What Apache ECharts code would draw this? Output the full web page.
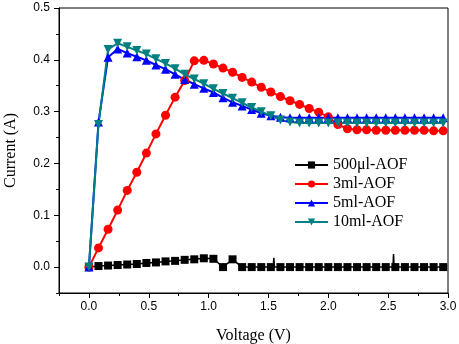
<!DOCTYPE html>
<html>
<head>
<meta charset="utf-8">
<script src="https://cdn.jsdelivr.net/npm/echarts@6/dist/echarts.min.js"></script>
<style>
    html, body {margin: 0; padding: 0; background: #fff;}
    #iv-chart {width: 459px; height: 344px;}
</style>
</head>
<body>
<div id="iv-chart"></div>
<script>
// voltage steps of the sweep (V)
const voltage = [0.00, 0.08, 0.16, 0.24, 0.32, 0.40, 0.48, 0.56, 0.64, 0.72, 0.80, 0.88, 0.96,
    1.04, 1.12, 1.20, 1.28, 1.36, 1.44, 1.52, 1.60, 1.68, 1.76, 1.84, 1.92, 2.00, 2.08, 2.16,
    2.24, 2.32, 2.40, 2.48, 2.56, 2.64, 2.72, 2.80, 2.88, 2.96];

// current (A) per sample
const aof500ul = [0, 0.002, 0.003, 0.004, 0.005, 0.006, 0.008, 0.009, 0.011, 0.012, 0.014, 0.015, 0.017,
    0.016, 0.000, 0.015, 0.000, 0, 0, 0, 0, 0, 0, 0, 0, 0, 0, 0,
    0, 0, 0, 0, 0, 0, 0, 0, 0, 0];
const aof3ml = [0, 0.037, 0.073, 0.110, 0.148, 0.183, 0.220, 0.257, 0.293, 0.328, 0.360, 0.398, 0.399,
    0.392, 0.384, 0.376, 0.366, 0.357, 0.347, 0.338, 0.329, 0.321, 0.314, 0.306, 0.299, 0.290, 0.275, 0.267,
    0.265, 0.265, 0.264, 0.264, 0.264, 0.264, 0.264, 0.264, 0.263, 0.263];
const aof5ml = [0, 0.280, 0.405, 0.421, 0.413, 0.406, 0.399, 0.390, 0.382, 0.372, 0.362, 0.353, 0.345,
    0.337, 0.327, 0.318, 0.311, 0.304, 0.297, 0.292, 0.289, 0.288, 0.288, 0.288, 0.288, 0.288, 0.288, 0.288,
    0.288, 0.288, 0.288, 0.288, 0.288, 0.288, 0.288, 0.288, 0.288, 0.288];
const aof10ml = [0, 0.275, 0.420, 0.432, 0.425, 0.418, 0.411, 0.402, 0.393, 0.383, 0.372, 0.363, 0.354,
    0.344, 0.335, 0.326, 0.317, 0.308, 0.300, 0.292, 0.284, 0.280, 0.278, 0.278, 0.278, 0.278, 0.278, 0.278,
    0.278, 0.278, 0.278, 0.278, 0.278, 0.278, 0.278, 0.278, 0.278, 0.278];

// little glitches in the 500µl trace, no marker drawn on them
const spikeV = [1.540, 1.545, 1.550, 2.540, 2.545, 2.550];
const spikeI = [0, 0.018, 0, 0, 0.025, 0];

const seriesNames = ['500μl-AOF', '3ml-AOF', '5ml-AOF', '10ml-AOF'];
const xLabels = [0, 0.5, 1.0, 1.5, 2.0, 2.5, 3.0];
const xMinor = [-0.25, 0.25, 0.75, 1.25, 1.75, 2.25, 2.75];
const yLabels = [0, 0.1, 0.2, 0.3, 0.4, 0.5];
const yMinor = [-0.05, 0.05, 0.15, 0.25, 0.35, 0.45];

function pairs(ys) {
    return voltage.map((v, i) => [v, ys[i]]);
}

function blackData() {
    let pts = pairs(aof500ul);
    spikeV.forEach((v, i) => {
        pts.push({value: [v, spikeI[i]], symbol: 'none'});
    });
    pts.sort((a, b) => (a.value || a)[0] - (b.value || b)[0]);
    return pts;
}

function lineSeries(name, data, color, symbol, size, width) {
    return {
        name: name,
        type: 'line',
        data: data,
        symbol: symbol,
        symbolSize: size,
        showAllSymbol: true,
        animation: false,
        lineStyle: {color: color, width: width},
        itemStyle: {color: color}
    };
}

function renderChart() {
    const el = echarts.init(document.getElementById('iv-chart'));
    const axisFont = {fontFamily: 'Liberation Sans', fontSize: 12, color: '#000'};
    const nameFont = {fontFamily: 'Liberation Serif', fontSize: 16, color: '#000'};
    const line = {show: true, onZero: false, lineStyle: {color: '#000', width: 1}};
    const noLine = {show: false, onZero: false};
    let option = {
        backgroundColor: '#fff',
        grid: {
            left: 59, top: 8, right: 11, bottom: 51,
            outerBoundsMode: 'none', containLabel: false,
            show: true, borderColor: '#000', borderWidth: 1
        },
        legend: {
            orient: 'vertical',
            left: 289,
            top: 152,
            itemWidth: 33,
            itemHeight: 9,
            itemGap: 3,
            data: seriesNames,
            textStyle: {fontFamily: 'Liberation Serif', fontSize: 16, color: '#000', lineHeight: 14}
        },
        xAxis: [{
            type: 'value', min: -0.25, max: 3.0,
            name: 'Voltage (V)', nameLocation: 'middle', nameGap: 35, nameTextStyle: nameFont,
            axisLine: line,
            splitLine: {show: false},
            axisTick: {customValues: xLabels, length: 5, lineStyle: {color: '#000'}},
            axisLabel: {customValues: xLabels, margin: 8, formatter: v => v.toFixed(1), ...axisFont}
        }, {
            type: 'value', min: -0.25, max: 3.0, position: 'bottom',
            axisLine: noLine, splitLine: {show: false}, axisLabel: {show: false},
            axisTick: {customValues: xMinor, length: 3, lineStyle: {color: '#000'}}
        }],
        yAxis: [{
            type: 'value', min: -0.05, max: 0.5,
            name: 'Current (A)', nameLocation: 'middle', nameGap: 40, nameTextStyle: nameFont,
            axisLine: line,
            splitLine: {show: false},
            axisTick: {customValues: yLabels, length: 5, lineStyle: {color: '#000'}},
            axisLabel: {customValues: yLabels, margin: 9, formatter: v => v.toFixed(1), ...axisFont}
        }, {
            type: 'value', min: -0.05, max: 0.5, position: 'left',
            axisLine: noLine, splitLine: {show: false}, axisLabel: {show: false},
            axisTick: {customValues: yMinor, length: 3, lineStyle: {color: '#000'}}
        }],
        series: [
            lineSeries(seriesNames[0], blackData(), '#000000', 'rect', 8, 1.5),
            lineSeries(seriesNames[1], pairs(aof3ml), '#ff0000', 'circle', 9, 2),
            lineSeries(seriesNames[2], pairs(aof5ml), '#0000ff', 'triangle', 9, 2),
            lineSeries(seriesNames[3], pairs(aof10ml), '#008080', 'path://M0,0 L10,0 L5,9 Z', 9, 2)
        ]
    };
    el.setOption(option);
}

renderChart();
</script>
</body>
</html>
